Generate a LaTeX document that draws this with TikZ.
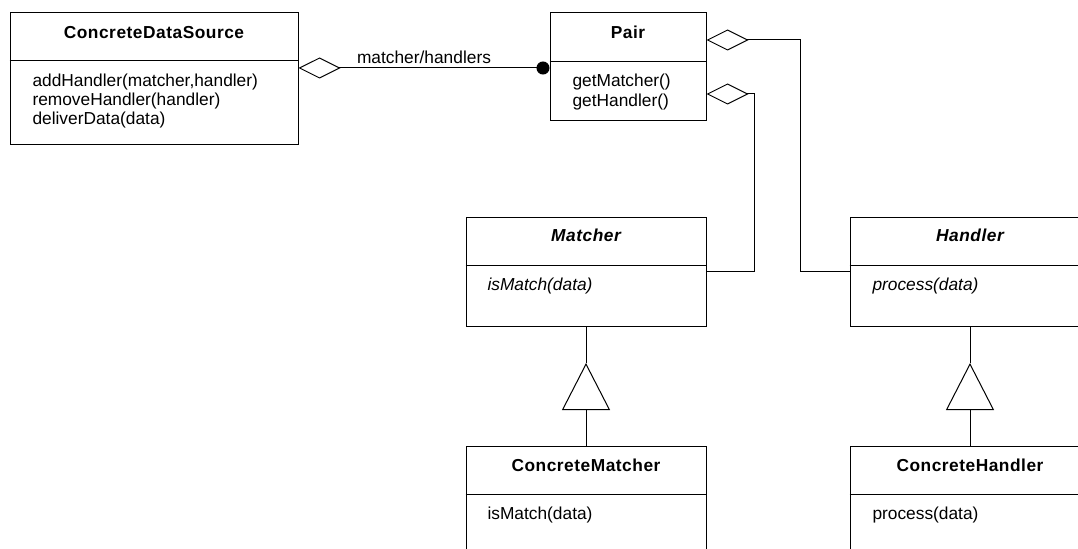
\documentclass[tikz,border=0pt]{standalone}
\usepackage{fontspec}
\setmainfont{Liberation Sans}
\newfontfamily\classnamefont[LetterSpace=3]{Liberation Sans}
\usetikzlibrary{arrows.meta,fit}
\begin{document}
\begin{tikzpicture}[x=0.75pt,y=-0.75pt,line width=0.75pt,
  every node/.style={font=\fontsize{13pt}{15pt}\selectfont},
  classbox/.style={draw,inner sep=0pt},
  title/.style={anchor=base,font=\fontsize{13pt}{15pt}\selectfont\classnamefont\bfseries},
  atitle/.style={anchor=base,font=\fontsize{13pt}{15pt}\selectfont\classnamefont\bfseries\itshape},
  op/.style={anchor=base west,inner sep=0pt},
  aop/.style={anchor=base west,inner sep=0pt,font=\fontsize{13pt}{15pt}\selectfont\itshape},
  aggr/.style={{Diamond[open,length=31.5pt,width=15.75pt]}-},
  gen/.style={-{Triangle[open,length=35.25pt,width=36pt]}}]
\useasboundingbox (0,0) rectangle (1078,549);
\clip (0,0) rectangle (1078,549);

% classes
\node[classbox, fit={(10,13) (298,145)}] (cds) {};
\node[classbox, fit={(550,13) (706,121)}] (pair) {};
\node[classbox, fit={(466,218) (706,326)}] (matcher) {};
\node[classbox, fit={(850,218) (1090,326)}] (handler) {};
\node[classbox, fit={(466,446) (706,600)}] (cmatcher) {};
\node[classbox, fit={(850,446) (1090,600)}] (chandler) {};

% compartment dividers
\draw (cds.west |- 0,61) -- (cds.east |- 0,61);
\draw (pair.west |- 0,62) -- (pair.east |- 0,62);
\draw (matcher.west |- 0,265) -- (matcher.east |- 0,265);
\draw (handler.west |- 0,265) -- (handler.east |- 0,265);
\draw (cmatcher.west |- 0,494) -- (cmatcher.east |- 0,494);
\draw (chandler.west |- 0,494) -- (chandler.east |- 0,494);

% names
\node[title] (cdsname) at (154,39) {ConcreteDataSource};
\node[title] (pairname) at (628,39) {Pair};
\node[atitle] (matchername) at (586,241) {Matcher};
\node[atitle] (handlername) at (970,241) {Handler};
\node[title] (cmatchername) at (586,471) {ConcreteMatcher};
\node[title] (chandlername) at (970,471) {ConcreteHandler};

% operations
\node[op] (cdsop1) at (32,87) {addHandler(matcher,handler)};
\node[op] (cdsop2) at (32,106) {removeHandler(handler)};
\node[op] (cdsop3) at (32,125) {deliverData(data)};
\node[op] (pairop1) at (572,87) {getMatcher()};
\node[op] (pairop2) at (572,107) {getHandler()};
\node[aop] (matcherop) at (487,290) {isMatch(data)};
\node[aop] (handlerop) at (872,290) {process(data)};
\node[op] (cmatcherop) at (487,519) {isMatch(data)};
\node[op] (chandlerop) at (872,519) {process(data)};

% associations
\draw[{Diamond[open,length=31.5pt,width=15.75pt]}-{Circle[length=9.75pt]}]
  (cds.east |- 0,68) -- node[above=1pt,inner sep=2pt] (assoclabel) {matcher/handlers} (pair.west |- 0,68);
\draw[aggr] (pair.east |- 0,40) -- (800,40) -- (800,271) -- (handler.west |- 0,271);
\draw[aggr] (pair.east |- 0,94) -- (754,94) -- (754,271) -- (matcher.east |- 0,271);

% inheritance
\coordinate (mtip) at (586,363);
\coordinate (htip) at (970,363);
\draw (matcher.south) -- (mtip);
\draw[gen] (cmatcher.north) -- (mtip);
\draw (handler.south) -- (htip);
\draw[gen] (chandler.north) -- (htip);
\end{tikzpicture}
\end{document}
